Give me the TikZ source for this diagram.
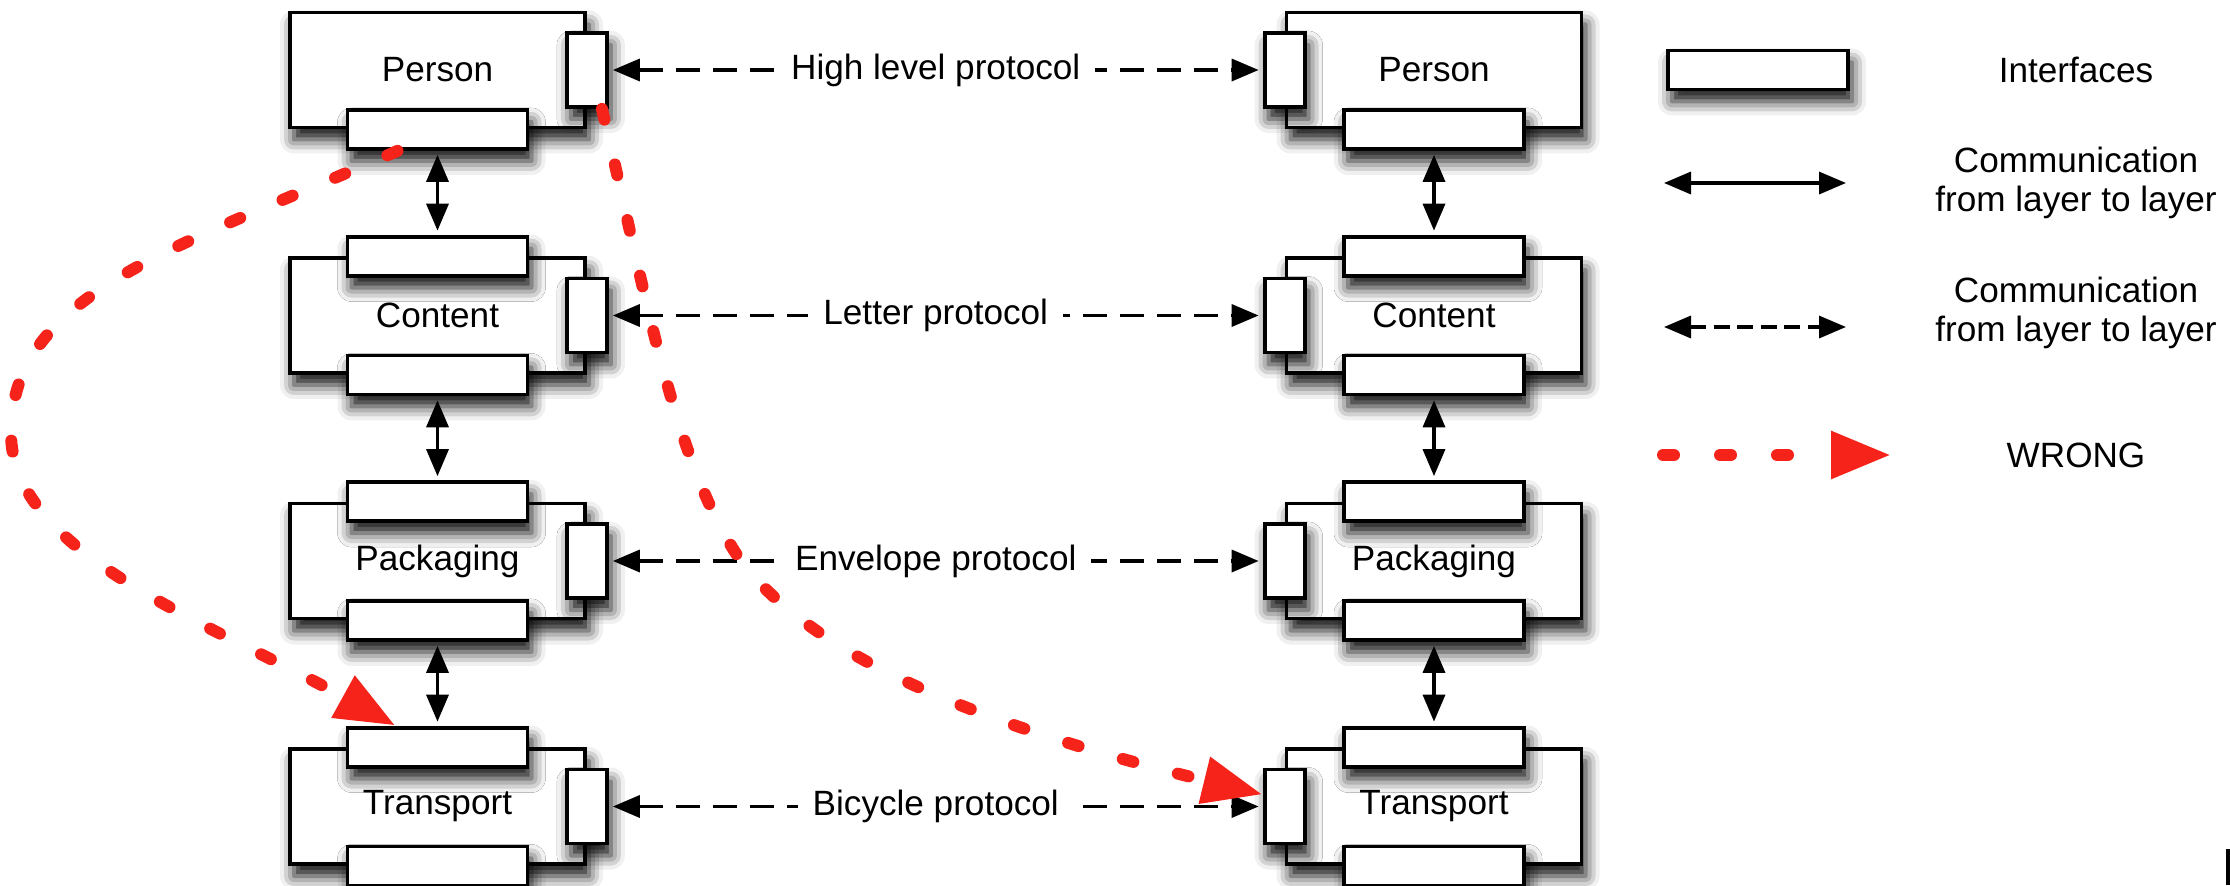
\documentclass[tikz,border=0pt]{standalone}
\usepackage{fontspec}
\setmainfont{Liberation Sans}
\usetikzlibrary{arrows.meta, shadows.blur}

\definecolor{wrongred}{RGB}{245,35,25}

\begin{document}
\begin{tikzpicture}[
	font = \fontsize{10}{11.1}\selectfont,
	boxshadow/.style = {blur shadow = {shadow xshift = 0.04cm, shadow yshift = -0.12cm, shadow blur radius = 0.14cm, shadow opacity = 95}},
	layer/.style = {draw, line width = 1.1pt, fill = white, inner sep = 0pt, minimum width = 2.95cm, minimum height = 1.15cm, boxshadow},
	hface/.style = {draw, line width = 1.1pt, fill = white, inner sep = 0pt, minimum width = 1.8cm, minimum height = 0.39cm, boxshadow},
	vface/.style = {hface, minimum width = 0.4cm, minimum height = 0.74cm},
	blk/.tip = {Triangle[length = 0.27cm, width = 0.22cm]},
	updown/.style = {line width = 1pt, blk-blk, shorten < = 0.04cm, shorten > = 0.04cm},
	protocol/.style = {updown, dash pattern = on 0.24cm off 0.13cm},
	protolabel/.style = {fill = white, inner xsep = 0.15cm, inner ysep = 0.05cm},
	wrong/.style = {wrongred, line width = 0.12cm, line cap = round, dash pattern = on 0.11cm off 0.46cm, -{Triangle[length = 0.6cm, width = 0.45cm]}}
]
\useasboundingbox (0, 0) rectangle (22.3, 8.85);

% sender stack
\node[layer] (pL1) at (4.375, 8.15) {Person};
\node[layer] (pL2) at (4.375, 5.695) {Content};
\node[layer] (pL3) at (4.375, 3.24) {Packaging};
\node[layer] (pL4) at (4.375, 0.785) {Transport};
\node[hface] (bL1) at (pL1.south) {};
\node[hface] (tL2) at (pL2.north) {};
\node[hface] (bL2) at (pL2.south) {};
\node[hface] (tL3) at (pL3.north) {};
\node[hface] (bL3) at (pL3.south) {};
\node[hface] (tL4) at (pL4.north) {};
\node[hface] (bL4) at (pL4.south) {};
\node[vface] (sL1) at (pL1.east) {};
\node[vface] (sL2) at (pL2.east) {};
\node[vface] (sL3) at (pL3.east) {};
\node[vface] (sL4) at (pL4.east) {};

% receiver stack
\node[layer] (pR1) at (14.34, 8.15) {Person};
\node[layer] (pR2) at (14.34, 5.695) {Content};
\node[layer] (pR3) at (14.34, 3.24) {Packaging};
\node[layer] (pR4) at (14.34, 0.785) {Transport};
\node[hface] (bR1) at (pR1.south) {};
\node[hface] (tR2) at (pR2.north) {};
\node[hface] (bR2) at (pR2.south) {};
\node[hface] (tR3) at (pR3.north) {};
\node[hface] (bR3) at (pR3.south) {};
\node[hface] (tR4) at (pR4.north) {};
\node[hface] (bR4) at (pR4.south) {};
\node[vface] (sR1) at (pR1.west) {};
\node[vface] (sR2) at (pR2.west) {};
\node[vface] (sR3) at (pR3.west) {};
\node[vface] (sR4) at (pR4.west) {};

% layer to layer
\draw[updown] (bL1) -- (tL2);
\draw[updown] (bL2) -- (tL3);
\draw[updown] (bL3) -- (tL4);
\draw[updown] (bR1) -- (tR2);
\draw[updown] (bR2) -- (tR3);
\draw[updown] (bR3) -- (tR4);

% peer protocols
\draw[protocol] (sL1) -- node[protolabel] {High level protocol} (sR1);
\draw[protocol] (sL2) -- node[protolabel] {Letter protocol} (sR2);
\draw[protocol] (sL3) -- node[protolabel] {Envelope protocol} (sR3);
\draw[protocol] (sL4) -- node[protolabel] {Bicycle protocol} (sR4);

% legend
\node[hface] (keyface) at (17.58, 8.15) {};
\node (keyfacetext) at (20.76, 8.15) {Interfaces};
\coordinate (keyA1) at (16.64, 7.02);
\coordinate (keyA2) at (18.46, 7.02);
\draw[updown, shorten < = 0pt, shorten > = 0pt] (keyA1) -- (keyA2);
\node[align = center] (keyAtext) at (20.76, 7.025) {Communication\\from layer to layer};
\coordinate (keyD1) at (16.64, 5.58);
\coordinate (keyD2) at (18.46, 5.58);
\draw[updown, shorten < = 0pt, shorten > = 0pt, dash pattern = on 0.16cm off 0.075cm] (keyD1) -- (keyD2);
\node[align = center] (keyDtext) at (20.76, 5.72) {Communication\\from layer to layer};
\coordinate (keyW1) at (16.63, 4.30);
\coordinate (keyW2) at (18.91, 4.30);
\draw[wrong] (keyW1) -- (keyW2);
\node (keyWtext) at (20.76, 4.30) {WRONG};

% wrong paths
\coordinate (loopL) at (0.11, 4.52);
\coordinate (bendR) at (7.41, 3.24);
\draw[wrong] ([xshift = -0.4cm]bL1.south) .. controls +(-2.2, -0.97) and +(0, 1.4) ..
	(loopL) .. controls +(0, -1.2) and +(-1.9, 1.05) ..
	([xshift = -0.42cm]tL4.north);
\draw[wrong] ([xshift = 0.15cm]sL1.south) .. controls +(0.42, -1.75) and +(-0.68, 0.98) ..
	(bendR) .. controls +(0.79, -1.04) and +(-2.58, 0.63) ..
	([yshift = 0.12cm]sR4.west);

\fill (22.26, 0) rectangle (22.3, 0.36);
\end{tikzpicture}
\end{document}
